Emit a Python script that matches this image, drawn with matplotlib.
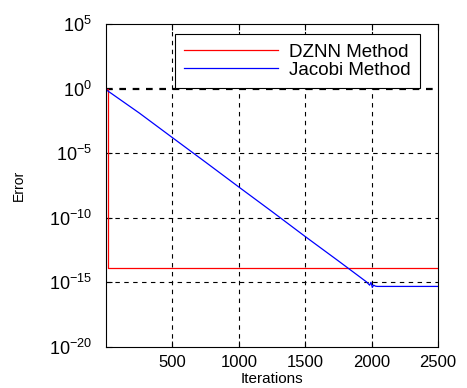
import numpy as np
import matplotlib
matplotlib.use("Agg")
import matplotlib.pyplot as plt

plt.rcParams['font.family'] = ['Liberation Sans', 'DejaVu Sans']
plt.rcParams['mathtext.fontset'] = 'custom'
plt.rcParams['mathtext.rm'] = 'Liberation Sans'
plt.rcParams['mathtext.it'] = 'Liberation Sans'
plt.rcParams['axes.unicode_minus'] = False

# DZNN: drops at the very start, then flat
dznn_iter = [1, 15, 15, 2500]
dznn_err = [1.0, 1.0, 1.2e-14, 1.2e-14]

# Jacobi: straight decay on log scale, then floor
jac_iter = [0, 10, 250, 500, 750, 1000, 1250, 1500, 1750, 1960, 1985, 1995, 2005, 2015, 2030, 2045, 2500]
jac_err = [1.0, 0.7, 1.3e-2, 1.6e-4, 2.0e-6, 2.4e-8, 3.0e-10, 3.5e-12, 4.5e-14, 1.1e-15, 6e-16, 1.0e-15, 4e-16, 6e-16, 5e-16, 4.8e-16, 4.8e-16]

xticks = [500, 1000, 1500, 2000, 2500]
yticks = [1e-20, 1e-15, 1e-10, 1e-5, 1e0, 1e5]
ytick_labels = ['$10^{-20}$', '$10^{-15}$', '$10^{-10}$', '$10^{-5}$', '$10^{0}$', '$10^{5}$']

fig = plt.figure(figsize=(4.67, 3.88), dpi=100)
ax = fig.add_axes([0.227, 0.106, 0.711, 0.832])

ax.semilogy(dznn_iter, dznn_err, color='red', lw=0.9, label='DZNN Method')
ax.semilogy(jac_iter, jac_err, color='blue', lw=0.9, label='Jacobi Method')

ax.set_xlim(0, 2500)
ax.set_ylim(1e-20, 1e5)
ax.set_xticks(xticks)
ax.set_yticks(yticks)
ax.set_yticklabels(ytick_labels)
ax.minorticks_off()
ax.tick_params(axis='x', labelsize=12, direction='in', length=4, top=True, pad=6)
ax.tick_params(axis='y', labelsize=13, direction='in', length=4, pad=10)

for x in xticks[:-1]:
    ax.axvline(x, color='black', ls=(0, (4, 4)), lw=0.8, zorder=0)
for y in yticks[1:4]:
    ax.axhline(y, color='black', ls=(0, (4, 4)), lw=0.8, zorder=0)
ax.axhline(1e0, color='black', ls=(0, (3, 3)), lw=1.6, zorder=0)

ax.set_xlabel('Iterations', fontsize=11, labelpad=1)
ax.set_ylabel('Error', fontsize=10, labelpad=17)

leg = ax.legend(loc='upper right', bbox_to_anchor=(0.946, 0.969), fontsize=13.5,
                frameon=True, fancybox=False, edgecolor='black', framealpha=1,
                handlelength=5.0, handletextpad=0.6, borderpad=0.5,
                labelspacing=0.05, borderaxespad=0)
leg.get_frame().set_linewidth(0.8)

fig.savefig('out.png', dpi=100)
